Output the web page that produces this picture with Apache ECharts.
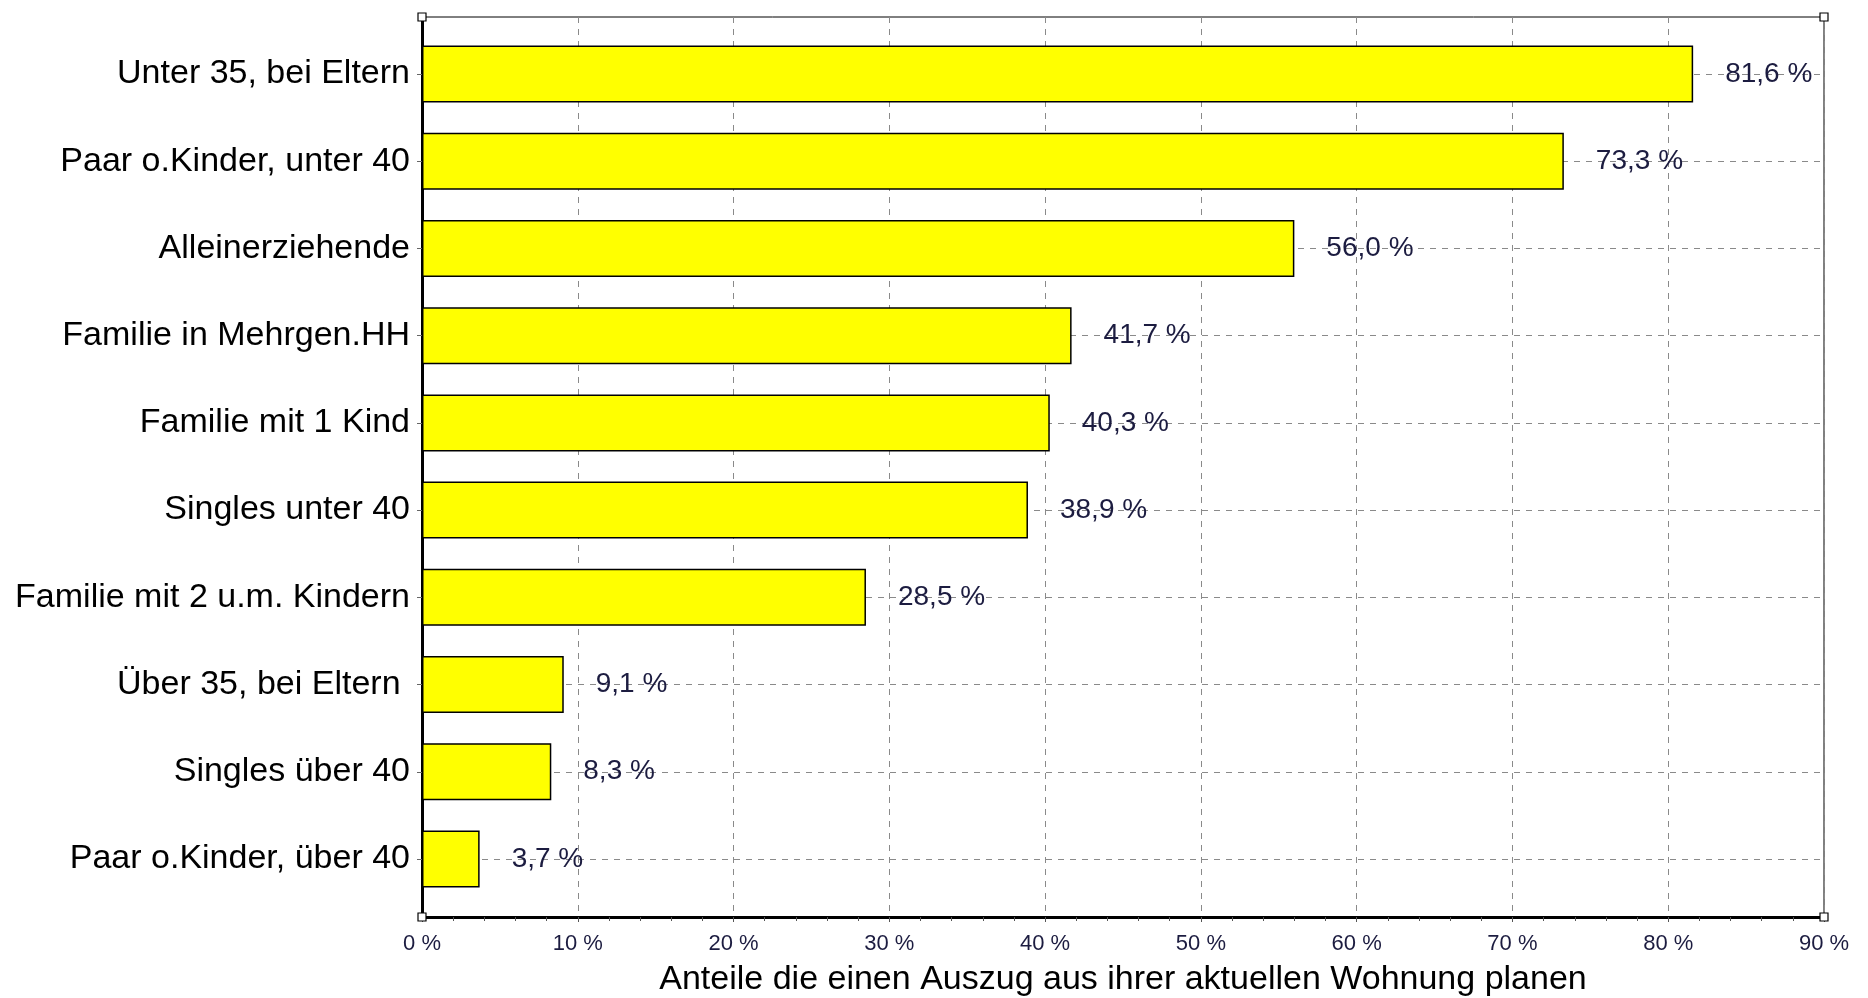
<!DOCTYPE html>
<html>
<head>
<meta charset="utf-8">
<script src="https://cdn.jsdelivr.net/npm/echarts@6/dist/echarts.min.js"></script>
<style>
  html, body { margin: 0; padding: 0; background: #fff; }
  #chart { width: 1868px; height: 998px; }
</style>
</head>
<body>
<div id="chart"></div>
<script>
const categories = [
  'Unter 35, bei Eltern',
  'Paar o.Kinder, unter 40',
  'Alleinerziehende',
  'Familie in Mehrgen.HH',
  'Familie mit 1 Kind',
  'Singles unter 40',
  'Familie mit 2 u.m. Kindern',
  'Über 35, bei Eltern ',
  'Singles über 40',
  'Paar o.Kinder, über 40'
]
const values = [81.6, 73.3, 56.0, 41.7, 40.3, 38.9, 28.5, 9.1, 8.3, 3.7]
const axisName = 'Anteile die einen Auszug aus ihrer aktuellen Wohnung planen'

const textColor = '#1c1c40'
const gridGray = '#8a8a8a'

const chart = echarts.init(document.getElementById('chart'))

const option = {
  backgroundColor: '#fff',
  animation: false,
  grid: [
    // frame with vertical grid lines
    { left: 422, right: 44, top: 17, bottom: 81, outerBoundsMode: 'none', show: true, borderColor: '#000', borderWidth: 1, backgroundColor: 'transparent' },
    // bars
    { left: 422, right: 44, top: 74, bottom: 139, outerBoundsMode: 'none' }
  ],
  xAxis: [
    {
      gridIndex: 0,
      type: 'value',
      min: 0,
      max: 90,
      interval: 10,
      axisLine: { show: true, lineStyle: { color: '#000', width: 3 } },
      axisTick: { show: true, length: 5, lineStyle: { color: '#555' } },
      minorTick: { show: true, splitNumber: 5, length: 4, lineStyle: { color: '#555' } },
      axisLabel: {
        formatter: '{value} %',
        color: textColor,
        fontSize: 22,
        fontFamily: 'Liberation Sans, Arial',
        margin: 16
      },
      splitLine: { show: true, lineStyle: { color: gridGray, type: [6, 6], width: 1 } },
      name: axisName,
      nameLocation: 'middle',
      nameGap: 46,
      nameTextStyle: { color: '#000', fontSize: 34, fontFamily: 'Liberation Sans, Arial' }
    },
    {
      gridIndex: 1,
      type: 'value',
      min: 0,
      max: 90,
      show: false
    }
  ],
  yAxis: [
    {
      gridIndex: 0,
      type: 'value',
      min: 0,
      max: 1,
      axisLine: { show: true, lineStyle: { color: '#000', width: 3 } },
      axisTick: { show: false },
      axisLabel: { show: false },
      splitLine: { show: false }
    },
    {
      gridIndex: 1,
      type: 'category',
      inverse: true,
      boundaryGap: false,
      data: categories,
      axisLine: { show: false },
      axisTick: { show: true, length: 5, lineStyle: { color: '#666' } },
      axisLabel: {
        color: '#000',
        fontSize: 34,
        fontFamily: 'Liberation Sans, Arial',
        margin: 12
      },
      splitLine: { show: true, lineStyle: { color: gridGray, type: [6, 6], width: 1 } }
    }
  ],
  series: [
    {
      type: 'bar',
      xAxisIndex: 1,
      yAxisIndex: 1,
      data: values,
      barWidth: 57,
      itemStyle: { color: '#ffff00', borderColor: '#000', borderWidth: 1.5 },
      label: {
        show: true,
        position: 'right',
        distance: 32,
        color: textColor,
        fontSize: 28,
        fontFamily: 'Liberation Sans, Arial',
        formatter: p => p.value.toFixed(1).replace('.', ',') + ' %'
      },
      z: 3
    }
  ]
}

chart.setOption(option)

// small selection handles at the frame corners
const rect = chart.getModel().getComponent('grid', 0).coordinateSystem.getRect()
const corners = [
  [rect.x, rect.y], [rect.x + rect.width, rect.y],
  [rect.x, rect.y + rect.height], [rect.x + rect.width, rect.y + rect.height]
]
chart.setOption({
  graphic: corners.map(c => ({
    type: 'rect',
    z: 100,
    shape: { x: c[0] - 4, y: c[1] - 4, width: 8, height: 8 },
    style: { fill: '#fff', stroke: '#000', lineWidth: 1.2 }
  }))
})

window.addEventListener('resize', () => chart.resize())
</script>
</body>
</html>
